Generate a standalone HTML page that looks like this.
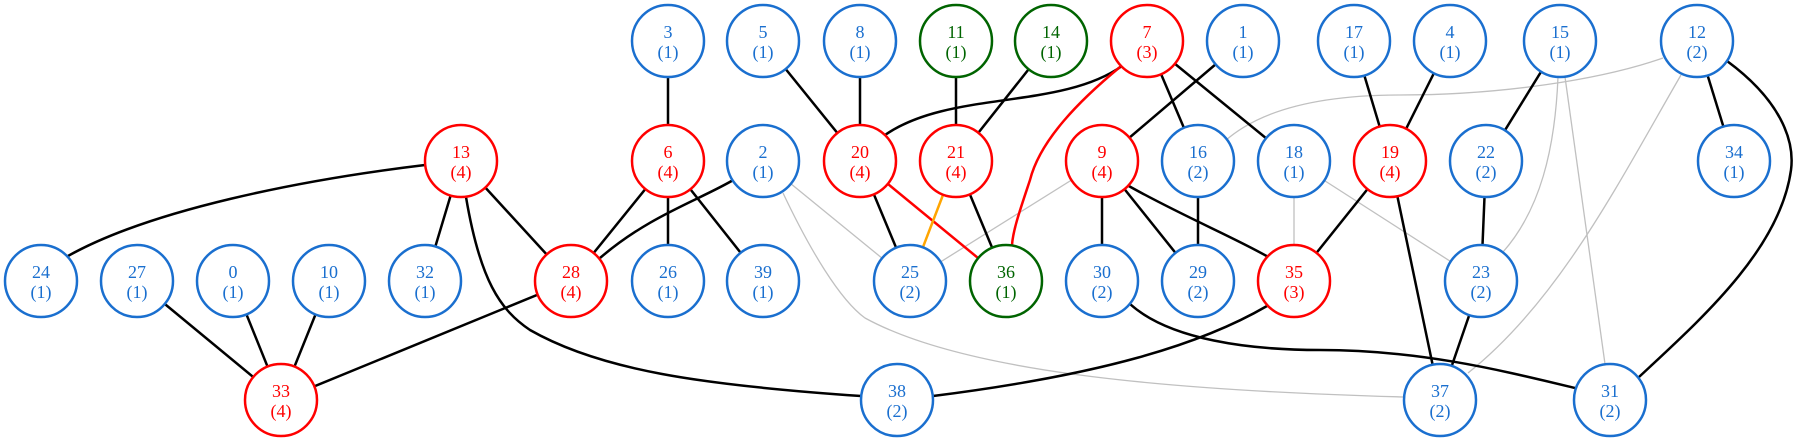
<!DOCTYPE html>
<html><head><meta charset="utf-8"><style>html,body{margin:0;padding:0;background:#fff}svg{display:block}</style></head><body>
<svg width="1797" height="441" viewBox="0 0 1797 441" xmlns="http://www.w3.org/2000/svg" font-family="'Liberation Serif','DejaVu Serif',serif" font-size="18" text-anchor="middle">
<g fill="none" stroke="#c0c0c0" stroke-width="1.3">
<path d="M1663,58 C1600,80 1500,95 1400,95 C1320,95 1260,110 1225,141"/>
<path d="M1681,75 C1620,180 1560,300 1468,373"/>
<path d="M1558,77 C1555,150 1540,210 1503,252"/>
<line x1="1565" y1="77" x2="1605" y2="364"/>
<line x1="763" y1="161" x2="910" y2="281"/>
<path d="M783,193 C810,250 840,300 865,318 C960,370 1150,390 1404,397"/>
<line x1="1102" y1="161" x2="910" y2="281"/>
<line x1="1294" y1="161" x2="1294" y2="281"/>
<line x1="1294" y1="161" x2="1481" y2="281"/>
</g>
<g fill="none" stroke="#000" stroke-width="2.5">
<line x1="668" y1="41" x2="668" y2="161"/>
<line x1="763" y1="41" x2="860" y2="161"/>
<line x1="860" y1="41" x2="860" y2="161"/>
<line x1="956" y1="41" x2="956" y2="161"/>
<line x1="1051" y1="41" x2="956" y2="161"/>
<path d="M1122,66 C1060,110 950,90 885,135"/>
<line x1="1147" y1="41" x2="1198" y2="161"/>
<line x1="1147" y1="41" x2="1294" y2="161"/>
<line x1="1243" y1="41" x2="1102" y2="161"/>
<line x1="1354" y1="41" x2="1390" y2="161"/>
<line x1="1450" y1="41" x2="1390" y2="161"/>
<line x1="1560" y1="41" x2="1486" y2="161"/>
<line x1="1697" y1="41" x2="1734" y2="161"/>
<path d="M1727,61 C1780,100 1795,140 1791,170 C1780,250 1700,320 1639,377"/>
<path d="M425,165 C300,180 150,210 68,256"/>
<line x1="461" y1="161" x2="425" y2="281"/>
<line x1="461" y1="161" x2="571" y2="281"/>
<path d="M466,197 C480,280 500,310 530,330 C600,370 700,385 861,396"/>
<line x1="668" y1="161" x2="571" y2="281"/>
<line x1="668" y1="161" x2="668" y2="281"/>
<line x1="668" y1="161" x2="763" y2="281"/>
<path d="M735,179 C700,200 650,215 600,258"/>
<line x1="860" y1="161" x2="910" y2="281"/>
<line x1="956" y1="161" x2="1006" y2="281"/>
<line x1="1102" y1="161" x2="1102" y2="281"/>
<line x1="1102" y1="161" x2="1198" y2="281"/>
<path d="M1127,185 C1180,215 1240,240 1270,258"/>
<line x1="1198" y1="161" x2="1198" y2="281"/>
<line x1="1390" y1="161" x2="1294" y2="281"/>
<line x1="1390" y1="161" x2="1440" y2="400"/>
<line x1="1486" y1="161" x2="1481" y2="281"/>
<line x1="1481" y1="281" x2="1440" y2="400"/>
<line x1="137" y1="281" x2="281" y2="400"/>
<line x1="233" y1="281" x2="281" y2="400"/>
<line x1="329" y1="281" x2="281" y2="400"/>
<line x1="571" y1="281" x2="281" y2="400"/>
<path d="M1267,306 C1200,345 1100,375 933,396"/>
<path d="M1130,304 C1170,340 1250,350 1320,350 C1420,350 1500,370 1575,388"/>
</g>
<g fill="none" stroke-width="2.5">
<path d="M1120,67 C1080,100 1040,140 1030,180 C1020,210 1013,230 1012,245" stroke="#f00"/>
<line x1="860" y1="161" x2="1006" y2="281" stroke="#f00"/>
<line x1="956" y1="161" x2="910" y2="281" stroke="#ffa500"/>
</g>
<g stroke-width="2.5" fill="#fff">
<g stroke="#1a6fcf">
<circle cx="668" cy="41" r="36"/><circle cx="763" cy="41" r="36"/><circle cx="860" cy="41" r="36"/>
<circle cx="1243" cy="41" r="36"/><circle cx="1354" cy="41" r="36"/><circle cx="1450" cy="41" r="36"/>
<circle cx="1560" cy="41" r="36"/><circle cx="1697" cy="41" r="36"/>
<circle cx="763" cy="161" r="36"/><circle cx="1198" cy="161" r="36"/><circle cx="1294" cy="161" r="36"/>
<circle cx="1486" cy="161" r="36"/><circle cx="1734" cy="161" r="36"/>
<circle cx="41" cy="281" r="36"/><circle cx="137" cy="281" r="36"/><circle cx="233" cy="281" r="36"/>
<circle cx="329" cy="281" r="36"/><circle cx="425" cy="281" r="36"/><circle cx="668" cy="281" r="36"/>
<circle cx="763" cy="281" r="36"/><circle cx="910" cy="281" r="36"/><circle cx="1102" cy="281" r="36"/>
<circle cx="1198" cy="281" r="36"/><circle cx="1481" cy="281" r="36"/>
<circle cx="897" cy="400" r="36"/><circle cx="1440" cy="400" r="36"/><circle cx="1610" cy="400" r="36"/>
</g>
<g stroke="#f00">
<circle cx="1147" cy="41" r="36"/><circle cx="461" cy="161" r="36"/><circle cx="668" cy="161" r="36"/>
<circle cx="860" cy="161" r="36"/><circle cx="956" cy="161" r="36"/><circle cx="1102" cy="161" r="36"/>
<circle cx="1390" cy="161" r="36"/><circle cx="571" cy="281" r="36"/><circle cx="1294" cy="281" r="36"/>
<circle cx="281" cy="400" r="36"/>
</g>
<g stroke="#006400">
<circle cx="956" cy="41" r="36"/><circle cx="1051" cy="41" r="36"/><circle cx="1006" cy="281" r="36"/>
</g>
</g>
<g fill="#1a6fcf">
<text x="668" y="38">3</text><text x="668" y="58">(1)</text>
<text x="763" y="38">5</text><text x="763" y="58">(1)</text>
<text x="860" y="38">8</text><text x="860" y="58">(1)</text>
<text x="1243" y="38">1</text><text x="1243" y="58">(1)</text>
<text x="1354" y="38">17</text><text x="1354" y="58">(1)</text>
<text x="1450" y="38">4</text><text x="1450" y="58">(1)</text>
<text x="1560" y="38">15</text><text x="1560" y="58">(1)</text>
<text x="1697" y="38">12</text><text x="1697" y="58">(2)</text>
<text x="763" y="158">2</text><text x="763" y="178">(1)</text>
<text x="1198" y="158">16</text><text x="1198" y="178">(2)</text>
<text x="1294" y="158">18</text><text x="1294" y="178">(1)</text>
<text x="1486" y="158">22</text><text x="1486" y="178">(2)</text>
<text x="1734" y="158">34</text><text x="1734" y="178">(1)</text>
<text x="41" y="278">24</text><text x="41" y="298">(1)</text>
<text x="137" y="278">27</text><text x="137" y="298">(1)</text>
<text x="233" y="278">0</text><text x="233" y="298">(1)</text>
<text x="329" y="278">10</text><text x="329" y="298">(1)</text>
<text x="425" y="278">32</text><text x="425" y="298">(1)</text>
<text x="668" y="278">26</text><text x="668" y="298">(1)</text>
<text x="763" y="278">39</text><text x="763" y="298">(1)</text>
<text x="910" y="278">25</text><text x="910" y="298">(2)</text>
<text x="1102" y="278">30</text><text x="1102" y="298">(2)</text>
<text x="1198" y="278">29</text><text x="1198" y="298">(2)</text>
<text x="1481" y="278">23</text><text x="1481" y="298">(2)</text>
<text x="897" y="397">38</text><text x="897" y="417">(2)</text>
<text x="1440" y="397">37</text><text x="1440" y="417">(2)</text>
<text x="1610" y="397">31</text><text x="1610" y="417">(2)</text>
</g>
<g fill="#f00">
<text x="1147" y="38">7</text><text x="1147" y="58">(3)</text>
<text x="461" y="158">13</text><text x="461" y="178">(4)</text>
<text x="668" y="158">6</text><text x="668" y="178">(4)</text>
<text x="860" y="158">20</text><text x="860" y="178">(4)</text>
<text x="956" y="158">21</text><text x="956" y="178">(4)</text>
<text x="1102" y="158">9</text><text x="1102" y="178">(4)</text>
<text x="1390" y="158">19</text><text x="1390" y="178">(4)</text>
<text x="571" y="278">28</text><text x="571" y="298">(4)</text>
<text x="1294" y="278">35</text><text x="1294" y="298">(3)</text>
<text x="281" y="397">33</text><text x="281" y="417">(4)</text>
</g>
<g fill="#006400">
<text x="956" y="38">11</text><text x="956" y="58">(1)</text>
<text x="1051" y="38">14</text><text x="1051" y="58">(1)</text>
<text x="1006" y="278">36</text><text x="1006" y="298">(1)</text>
</g>
</svg>
</body></html>
